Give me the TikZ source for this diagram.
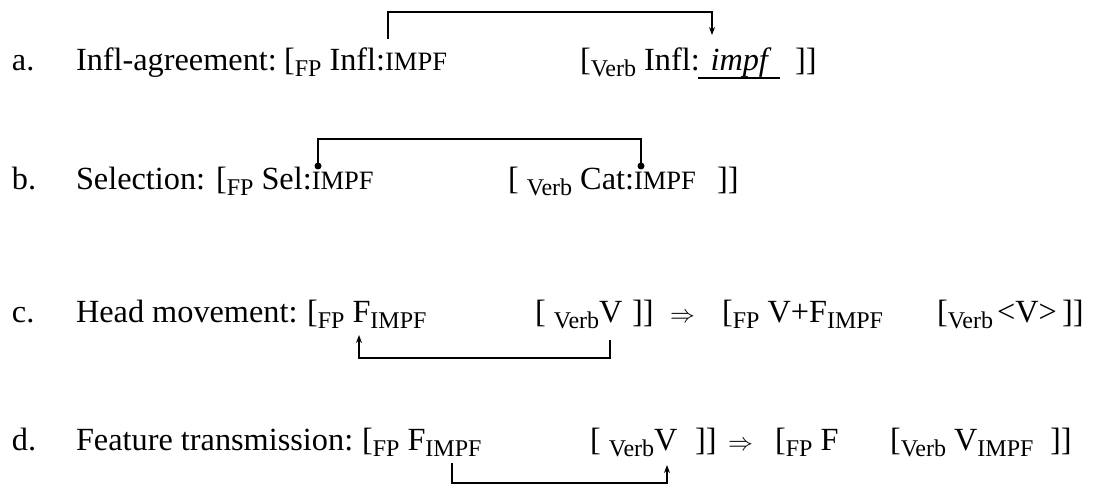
\documentclass[tikz,border=0pt]{standalone}
\usepackage{fontspec}
\setmainfont{Liberation Serif}
\usetikzlibrary{arrows.meta}
\newcommand\mainsz{\fontsize{32.3}{38}\selectfont}
\newcommand\sbs[1]{\raisebox{-6pt}{\fontsize{24}{24}\selectfont #1}}
\newcommand\smc[1]{{\fontsize{26.5}{26.5}\selectfont #1}}
\begin{document}
\begin{tikzpicture}[x=1pt,y=-1pt,
  txt/.style={anchor=base west, inner sep=0pt, outer sep=0pt, font=\mainsz},
  link/.style={line width=1.5pt},
  tip/.style={-{Stealth[length=8pt,width=6pt]}},
  dotend/.style={fill=black, circle, inner sep=0pt, minimum size=7pt}]
\useasboundingbox (0,0) rectangle (1096,489);
% row a
\node[txt] (alab) at (12,71) {a.};
\node[txt] (atit) at (76,71) {Infl-agreement:};
\node[txt] (afp) at (284,71) {[\sbs{FP} Infl:\smc{IMPF}};
\node[txt] (averb) at (580,71) {[\sbs{Verb} Infl: \textit{impf}};
\node[txt] (abr) at (795,71) {]]};
\coordinate (ul1) at (698,78);
\coordinate (ul2) at (780,78);
\draw[line width=2.5pt] (ul1) -- (ul2);
\coordinate (a1) at (388,39);
\coordinate (a2) at (712,35);
\draw[link,tip] (a1) -- (a1 |- 0,12) -- (a2 |- 0,12) -- (a2);
% row b
\node[txt] (blab) at (12,190) {b.};
\node[txt] (btit) at (76,190) {Selection:};
\node[txt] (bfp) at (216,190) {[\sbs{FP} Sel:\smc{IMPF}};
\node[txt] (bverb) at (508,190) {[ \sbs{Verb} Cat:\smc{IMPF}};
\node[txt] (bbr) at (717,190) {]]};
\node[dotend] (bd1) at (318,166) {};
\node[dotend] (bd2) at (641,166) {};
\draw[link] (bd1.center) -- (bd1 |- 0,139) -- (bd2 |- 0,139) -- (bd2.center);
% row c
\node[txt] (clab) at (12,323) {c.};
\node[txt] (ctit) at (76,323) {Head movement:};
\node[txt] (cfp) at (307,323) {[\sbs{FP} F\sbs{IMPF}};
\node[txt] (cverb) at (535,323) {[ \sbs{Verb}V};
\node[txt] (cbr) at (632,323) {]]};
\node[txt] (carr) at (670,323) {$\Rightarrow$};
\node[txt] (cfp2) at (722,323) {[\sbs{FP} V+F\sbs{IMPF}};
\node[txt] (cverb2) at (937,323) {[\sbs{Verb}\hspace{4pt}<V>};
\node[txt] (cbr2) at (1062,323) {]]};
\coordinate (c1) at (610,340);
\coordinate (c2) at (359,335);
\draw[link,tip] (c1) -- (c1 |- 0,358) -- (c2 |- 0,358) -- (c2);
% row d
\node[txt] (dlab) at (12,450) {d.};
\node[txt] (dtit) at (76,450) {Feature transmission:};
\node[txt] (dfp) at (362,450) {[\sbs{FP} F\sbs{IMPF}};
\node[txt] (dverb) at (590,450) {[ \sbs{Verb}V};
\node[txt] (dbr) at (695,450) {]]};
\node[txt] (darr) at (728,450) {$\Rightarrow$};
\node[txt] (dfp2) at (775,450) {[\sbs{FP} F};
\node[txt] (dverb2) at (890,450) {[\sbs{Verb} V\sbs{IMPF}};
\node[txt] (dbr2) at (1050,450) {]]};
\coordinate (d1) at (452,463);
\coordinate (d2) at (667,465);
\draw[link,tip] (d1) -- (d1 |- 0,483) -- (d2 |- 0,483) -- (d2);
\end{tikzpicture}
\end{document}
